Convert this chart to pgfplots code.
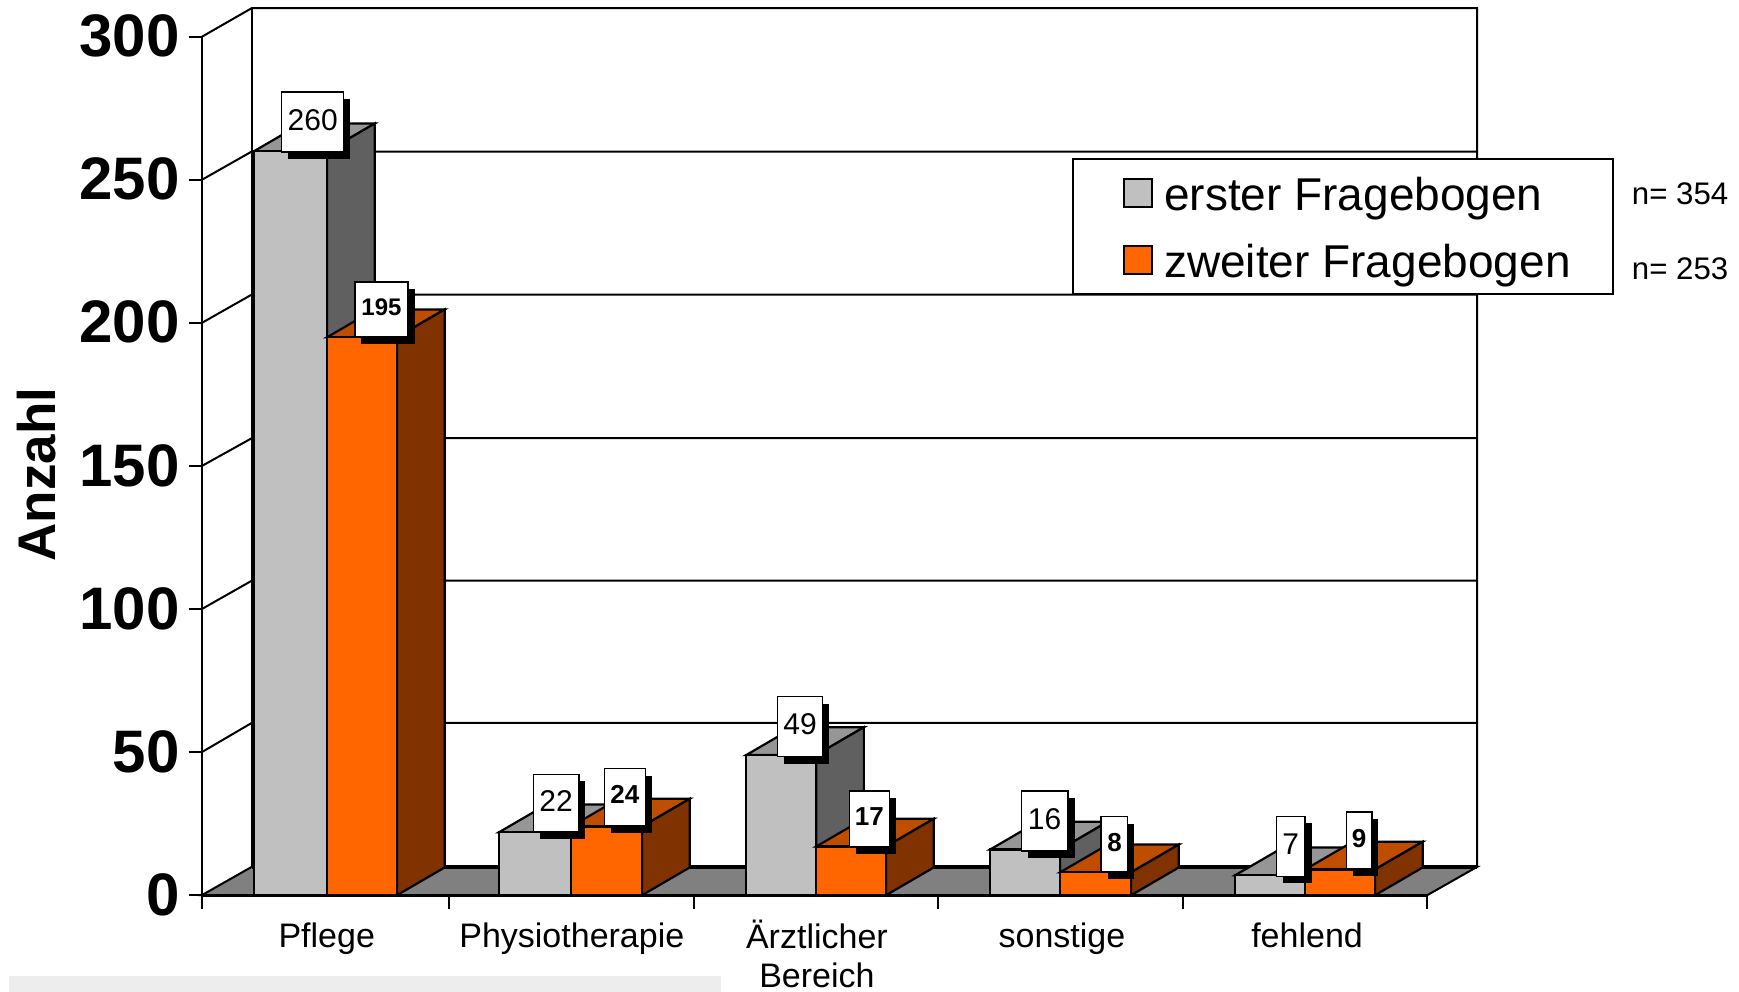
\documentclass[border=0pt]{standalone}
\usepackage{fontspec}
\setmainfont{Liberation Sans}
\usepackage{pgfplots}
\pgfplotsset{compat=1.18}
\definecolor{gface}{HTML}{C0C0C0}
\definecolor{gtop}{HTML}{969696}
\definecolor{gside}{HTML}{606060}
\definecolor{oface}{HTML}{FF6600}
\definecolor{otop}{HTML}{BF4D00}
\definecolor{oside}{HTML}{803300}
\definecolor{floorc}{HTML}{808080}
\definecolor{stripc}{HTML}{EDEDED}
\newcommand{\threedbar}[6]{%
  \pgfmathsetmacro{\xb}{#2+0.1946}%
  \pgfmathsetmacro{\xa}{#1+0.1946}%
  \pgfmathsetmacro{\yb}{#3+9.7}%
  \addplot[forget plot,fill=#5,draw=black,line width=1.1pt] coordinates {(#1,#3) (#2,#3) (\xb,\yb) (\xa,\yb)} -- cycle;
  \addplot[forget plot,fill=#6,draw=black,line width=1.1pt] coordinates {(#2,0) (\xb,9.7) (\xb,\yb) (#2,#3)} -- cycle;
  \addplot[forget plot,fill=#4,draw=black,line width=1.1pt] coordinates {(#1,0) (#2,0) (#2,#3) (#1,#3)} -- cycle;
}
\newcommand{\gridlevel}[2]{%
  \addplot[forget plot,black,line width=1pt] coordinates {(0,#1) (0.2036,#2) (5.2036,#2)};
}
\newcommand{\vlabel}[6][\mdseries]{%
  \node[fill=black,inner sep=0pt,minimum width=#4pt,minimum height=#5pt] at ([xshift=3.3pt,yshift=-3.6pt]axis cs:#2,#3) {};
  \node[fill=white,draw=black,line width=0.7pt,inner sep=0pt,minimum width=#4pt,minimum height=#5pt,font=#1] at (axis cs:#2,#3) {\raisebox{2.2pt}{#6}};
}
\begin{document}
\begin{tikzpicture}
\path[use as bounding box] (0,0) rectangle (869.5pt,495.8pt);
\begin{axis}[
  at={(100.9pt,48.2pt)},anchor=south west,
  scale only axis,width=612.7pt,height=429.2pt,
  xmin=0,xmax=5,ymin=0,ymax=300,clip=false,
  axis x line*=bottom,axis y line*=left,
  axis line style={-,black,line width=1pt},
  x axis line style={line width=1.4pt},
  tick style={black,line width=0.9pt},
  tick align=outside,
  ytick={0,50,100,150,200,250,300},
  major tick length=6.6pt,
  yticklabel style={font=\fontsize{30}{30}\selectfont\bfseries,xshift=-1pt,yshift=-4pt},
  /pgf/number format/assume math mode=true,
  xtick={0.5,1.5,2.5,3.5,4.5},
  xticklabels={Pflege,Physiotherapie,{Ärztlicher\\Bereich},sonstige,fehlend},
  minor xtick={0,1.009,2.009,3.005,4.005,5},
  minor tick length=7pt,
  x tick style={draw=none},
  minor x tick style={draw=black,line width=0.9pt},
  xticklabel style={font=\fontsize{17}{19.5}\selectfont,align=center,anchor=north,xshift=1.2pt,yshift=-2.2pt},
  typeset ticklabels with strut,
  ylabel={Anzahl},
  ylabel style={font=\fontsize{26.5}{28}\selectfont\bfseries,at={(axis description cs:-0.1348,0.49)},anchor=center},
  legend style={at={(axis cs:3.552,257.8)},anchor=north west,draw=black,line width=1pt,
    font=\fontsize{23}{26}\selectfont,inner xsep=21pt,inner ysep=4.7pt,row sep=9pt,
    nodes={inner xsep=0pt,inner ysep=2pt}},
  legend cell align=left,
]
\addlegendimage{legend image code/.code={\path[draw=none] (-4.4pt,0pt) -- (20pt,0pt);\draw[black,line width=1pt,fill=gface] (0pt,-7pt) rectangle (14pt,7pt);}}
\addlegendentry{\rule{0pt}{19.2pt}erster Fragebogen}
\addlegendimage{legend image code/.code={\path[draw=none] (-4.4pt,0pt) -- (20pt,0pt);\draw[black,line width=1pt,fill=oface] (0pt,-7pt) rectangle (14pt,7pt);}}
\addlegendentry{\rule{0pt}{19.2pt}zweiter Fragebogen}
% bottom strip
\fill[stripc] (axis cs:-0.787,-34.2) rectangle (axis cs:2.118,-28.3);
% floor
\addplot[forget plot,fill=floorc,draw=black,line width=1pt] coordinates {(0,0) (5,0) (5.2036,9.9) (0.2036,9.9)} -- cycle;
\addplot[forget plot,black,line width=1.7pt] coordinates {(0.2036,9.9) (5.2036,9.9)};
% walls
\addplot[forget plot,black,line width=1pt] coordinates {(0,300) (0.2036,310) (5.2036,310) (5.2036,9.9)};
\addplot[forget plot,black,line width=1pt] coordinates {(0.2036,9.9) (0.2036,310)};
\gridlevel{50}{60.2}
\gridlevel{100}{109.9}
\gridlevel{150}{159.7}
\gridlevel{200}{209.9}
\gridlevel{250}{259.9}
% bars: left, right, value, face, top, side
\threedbar{0.2127}{0.5113}{260}{gface}{gtop}{gside}
\threedbar{0.5113}{0.7964}{195}{oface}{otop}{oside}
\threedbar{1.2127}{1.5068}{22}{gface}{gtop}{gside}
\threedbar{1.5068}{1.7964}{24}{oface}{otop}{oside}
\threedbar{2.2217}{2.5068}{49}{gface}{gtop}{gside}
\threedbar{2.5068}{2.7919}{17}{oface}{otop}{oside}
\threedbar{3.2172}{3.5023}{16}{gface}{gtop}{gside}
\threedbar{3.5023}{3.7919}{8}{oface}{otop}{oside}
\threedbar{4.2172}{4.5023}{7}{gface}{gtop}{gside}
\threedbar{4.5023}{4.7873}{9}{oface}{otop}{oside}
% value labels
\vlabel{0.4525}{270.2}{31}{30}{\fontsize{15}{15}\selectfont 260}
\vlabel[\bfseries]{0.733}{204.8}{26.6}{27.2}{\fontsize{12}{12}\selectfont 195}
\vlabel{1.4457}{32.2}{22.7}{28.8}{\fontsize{15}{15}\selectfont 22}
\vlabel[\bfseries]{1.726}{34.3}{20.5}{28.3}{\fontsize{13}{13}\selectfont 24}
\vlabel{2.441}{58.9}{22.7}{30}{\fontsize{15}{15}\selectfont 49}
\vlabel[\bfseries]{2.724}{26.7}{20}{27.7}{\fontsize{13}{13}\selectfont 17}
\vlabel{3.439}{26.0}{23.3}{30}{\fontsize{15}{15}\selectfont 16}
\vlabel[\bfseries]{3.724}{17.8}{13.3}{27.7}{\fontsize{13}{13}\selectfont 8}
\vlabel{4.443}{17.1}{14.4}{30}{\fontsize{15}{15}\selectfont 7}
\vlabel[\bfseries]{4.722}{19.2}{12.8}{28.3}{\fontsize{13}{13}\selectfont 9}
\node[font=\fontsize{15.6}{16}\selectfont] at (axis cs:6.032,245.3) {n= 354};
\node[font=\fontsize{15.6}{16}\selectfont] at (axis cs:6.032,219) {n= 253};
\end{axis}
\end{tikzpicture}
\end{document}
